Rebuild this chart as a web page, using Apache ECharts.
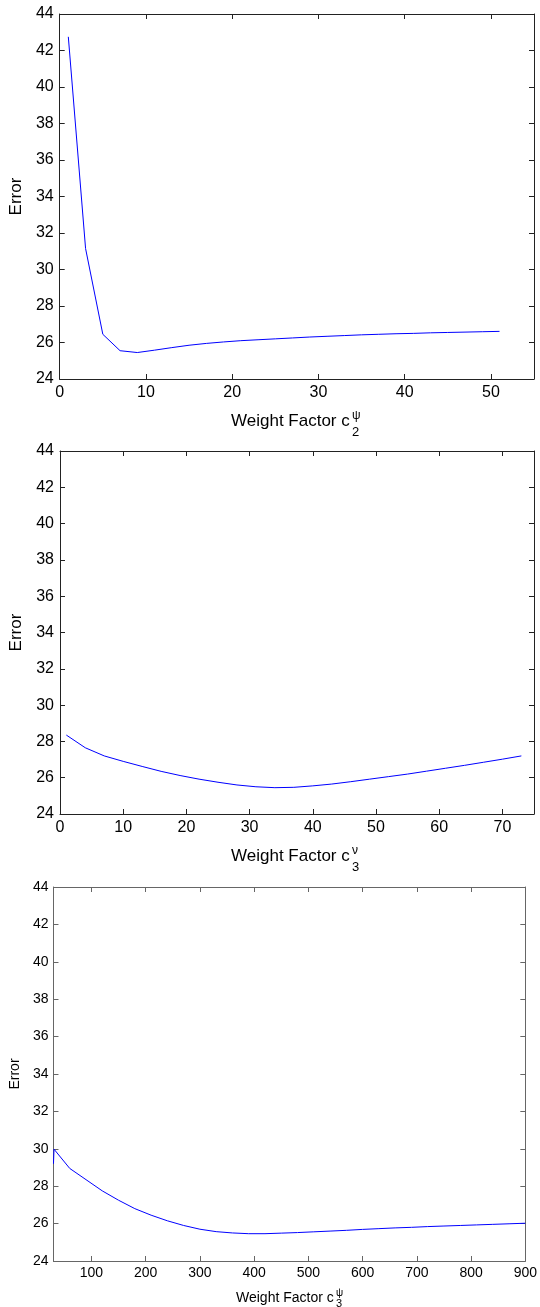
<!DOCTYPE html>
<html>
<head>
<meta charset="utf-8">
<script src="https://cdn.jsdelivr.net/npm/echarts@6/dist/echarts.min.js"></script>
<style>
  html, body { margin: 0; padding: 0; background: #fff; }
  #main { width: 540px; height: 1307px; }
</style>
</head>
<body>
<div id="main"></div>
<script>
// panel 1: weight factor c2 psi
var x1 = [1, 3, 5, 7, 9, 11, 13, 15, 17, 19, 21, 23, 25, 27, 29, 31, 33, 35, 37, 39, 41, 43, 45, 47, 49, 51];
var err1 = [42.75, 31.15, 26.45, 25.55, 25.45, 25.58, 25.72, 25.85, 25.95, 26.03, 26.1, 26.15, 26.2,
            26.25, 26.3, 26.34, 26.38, 26.42, 26.45, 26.48, 26.5, 26.53, 26.55, 26.57, 26.59, 26.61];
var ticks1 = [0, 10, 20, 30, 40, 50];

// panel 2: weight factor c3 nu
var x2 = [1, 4, 7, 10, 13, 16, 19, 22, 25, 28, 31, 34, 37, 40, 43, 46, 49, 52, 55, 58, 61, 64, 67, 70, 73];
var err2 = [28.35, 27.65, 27.2, 26.9, 26.62, 26.35, 26.12, 25.92, 25.75, 25.6, 25.5, 25.45, 25.47,
            25.55, 25.65, 25.78, 25.92, 26.06, 26.2, 26.36, 26.52, 26.68, 26.85, 27.02, 27.2];
var ticks2 = [0, 10, 20, 30, 40, 50, 60, 70];

// panel 3: weight factor c3 psi
var x3 = [30, 31, 60, 90, 120, 150, 180, 210, 240, 270, 300, 330, 360, 390, 420, 450, 480, 510,
          540, 570, 600, 630, 660, 690, 720, 750, 780, 810, 840, 870, 900];
var err3 = [29.2, 29.98, 28.95, 28.35, 27.75, 27.25, 26.8, 26.45, 26.15, 25.9, 25.7, 25.57, 25.5, 25.46,
            25.46, 25.49, 25.52, 25.56, 25.6, 25.64, 25.69, 25.73, 25.77, 25.8, 25.84, 25.87, 25.9,
            25.93, 25.96, 25.99, 26.02];
var ticks3 = [100, 200, 300, 400, 500, 600, 700, 800, 900];

var FONT = 'Liberation Sans';

var panels = [
  { x: x1, y: err1, ticks: ticks1, xmin: 0, xmax: 55, grid: { left: 59, top: 14, width: 475, height: 365 },
    fs: 16, nameFs: 17, axisColor: '#222', nameGap: 34, ylMargin: 6, xlMargin: 6 },
  { x: x2, y: err2, ticks: ticks2, xmin: 0, xmax: 75, grid: { left: 60, top: 451, width: 474, height: 363 },
    fs: 16, nameFs: 17, axisColor: '#222', nameGap: 34, ylMargin: 6, xlMargin: 6 },
  { x: x3, y: err3, ticks: ticks3, xmin: 30, xmax: 900, grid: { left: 53, top: 887, width: 476, height: 374 },
    fs: 14, nameFs: 14, axisColor: '#666', nameGap: 28, ylMargin: 5, xlMargin: 5 }
];

var grids = [], xAxes = [], yAxes = [], series = [];
panels.forEach(function (p, i) {
  grids.push(p.grid);
  var line = { show: true, onZero: false, lineStyle: { color: p.axisColor, width: 1 } };
  var tick = { show: true, inside: true, length: 5, lineStyle: { color: p.axisColor } };
  xAxes.push({
    type: 'value', gridIndex: i, min: p.xmin, max: p.xmax, position: 'bottom',
    axisLine: line, axisTick: Object.assign({ customValues: p.ticks }, tick),
    axisLabel: { customValues: p.ticks, color: '#000', fontFamily: FONT, fontSize: p.fs, margin: p.xlMargin },
    splitLine: { show: false }
  });
  xAxes.push({
    type: 'value', gridIndex: i, min: p.xmin, max: p.xmax, position: 'top',
    axisLine: line, axisTick: Object.assign({ customValues: p.ticks }, tick),
    axisLabel: { show: false }, splitLine: { show: false }
  });
  yAxes.push({
    type: 'value', gridIndex: i, min: 24, max: 44, interval: 2, position: 'left',
    name: 'Error', nameLocation: 'middle', nameGap: p.nameGap,
    nameTextStyle: { color: '#000', fontFamily: FONT, fontSize: p.nameFs },
    axisLine: line, axisTick: tick,
    axisLabel: { color: '#000', fontFamily: FONT, fontSize: p.fs, margin: p.ylMargin },
    splitLine: { show: false }
  });
  yAxes.push({
    type: 'value', gridIndex: i, min: 24, max: 44, interval: 2, position: 'right',
    axisLine: line, axisTick: tick, axisLabel: { show: false }, splitLine: { show: false }
  });
  series.push({
    type: 'line', xAxisIndex: i * 2, yAxisIndex: i * 2, showSymbol: false, symbol: 'none',
    data: p.x.map(function (v, k) { return [v, p.y[k]]; }),
    lineStyle: { color: '#0000ff', width: 1 }, itemStyle: { color: '#0000ff' },
    animation: false
  });
});

function label(x, y, text, size) {
  return { type: 'text', x: x, y: y, silent: true,
    style: { text: text, fill: '#000', font: size + 'px "' + FONT + '"', align: 'left', verticalAlign: 'middle' } };
}

var graphics = [
  label(231, 421, 'Weight Factor c', 17), label(352, 416, 'ψ', 12), label(352, 432, '2', 13),
  label(231, 856, 'Weight Factor c', 17), label(352, 851, 'ν', 12), label(352, 867, '3', 13),
  label(236, 1298, 'Weight Factor c', 14), label(336, 1293, 'ψ', 10), label(336, 1304, '3', 11)
];

var myChart = echarts.init(document.getElementById('main'));
myChart.setOption({
  animation: false,
  backgroundColor: '#fff',
  grid: grids,
  xAxis: xAxes,
  yAxis: yAxes,
  series: series,
  graphic: graphics
});
</script>
</body>
</html>
